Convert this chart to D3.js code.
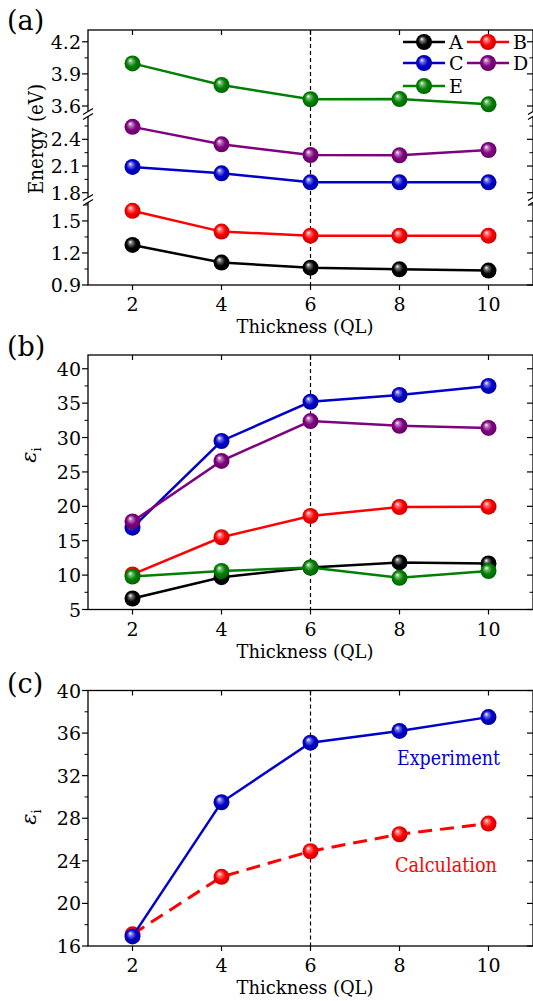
<!DOCTYPE html>
<html>
<head>
<meta charset="utf-8">
<script src="https://cdn.jsdelivr.net/npm/d3@7"></script>
<style>
body { margin: 0; background: #fff; }
svg { display: block; }
</style>
</head>
<body>
<div id="svgWrapper"></div>
<script>
const width = 533;
const height = 1001;

// Values
const thickness = [2, 4, 6, 8, 10];
const seriesNames = ["A", "B", "C", "D", "E"];

// (a) energies in eV
const energyA = [1.275, 1.11, 1.062, 1.047, 1.035];
const energyB = [1.595, 1.40, 1.362, 1.362, 1.362];
const energyC = [2.09, 2.018, 1.917, 1.917, 1.917];
const energyD = [2.54, 2.344, 2.224, 2.22, 2.28];
const energyE = [3.998, 3.796, 3.663, 3.665, 3.616];

// (b) epsilon_i
const epsA = [6.6, 9.7, 11.1, 11.85, 11.7];
const epsB = [10.1, 15.5, 18.6, 19.9, 19.95];
const epsC = [16.9, 29.5, 35.2, 36.2, 37.5];
const epsD = [17.8, 26.6, 32.4, 31.7, 31.4];
const epsE = [9.8, 10.6, 11.1, 9.6, 10.6];

// (c) experiment vs calculation
const epsExperiment = [16.9, 29.5, 35.1, 36.2, 37.5];
const epsCalculation = [17.1, 22.5, 24.9, 26.5, 27.5];

// tick labels
const xTicks = [2, 4, 6, 8, 10];
const energyTicks = [[0.9, 1.2, 1.5], [1.8, 2.1, 2.4], [3.6, 3.9, 4.2]];
const epsTicksB = [5, 10, 15, 20, 25, 30, 35, 40];
const epsTicksC = [16, 20, 24, 28, 32, 36, 40];

const colors = { A: "#000000", B: "#ff0000", C: "#0000cc", D: "#800080", E: "#008000" };
const serif = "DejaVu Serif";

const svg = d3.select("#svgWrapper")
    .append("svg")
    .attr("width", width)
    .attr("height", height)
    .attr("font-family", serif);

svg.append("rect").attr("width", width).attr("height", height).attr("fill", "#fff");

// sphere-like gradients for the markers
const defs = svg.append("defs");
Object.entries(colors).forEach(([k, c]) => {
    const g = defs.append("radialGradient")
        .attr("id", "ball" + k)
        .attr("cx", "50%").attr("cy", "50%").attr("r", "55%")
        .attr("fx", "35%").attr("fy", "30%");
    const base = d3.color(c);
    g.append("stop").attr("offset", "0%").attr("stop-color", "#ffffff");
    g.append("stop").attr("offset", "22%").attr("stop-color", d3.interpolateRgb(c, "#fff")(0.45));
    g.append("stop").attr("offset", "55%").attr("stop-color", c);
    g.append("stop").attr("offset", "100%").attr("stop-color", base.darker(0.8));
});

const left = 88, right = 533;
const x = d3.scaleLinear().domain([1, 11]).range([left, right]);

function addText(parent, px, py, str, size) {
    return parent.append("text")
        .attr("x", px).attr("y", py)
        .attr("font-family", serif)
        .attr("font-size", size)
        .text(str);
}

// generic frame: axes lines, ticks (outer on left/bottom, inner on top/right)
function drawFrame(top, bottom, yMajor, yMinor) {
    const g = svg.append("g");
    g.append("rect")
        .attr("x", left).attr("y", top)
        .attr("width", right - left).attr("height", bottom - top)
        .attr("fill", "none").attr("stroke", "#000").attr("stroke-width", 1.3);

    yMajor.forEach(t => {
        g.append("line").attr("x1", left - 6).attr("x2", left).attr("y1", t.y).attr("y2", t.y)
            .attr("stroke", "#000").attr("stroke-width", 1.2);
        g.append("line").attr("x1", right - 6).attr("x2", right).attr("y1", t.y).attr("y2", t.y)
            .attr("stroke", "#000").attr("stroke-width", 1.2);
        addText(g, left - 7, t.y + 7, t.label, 19).attr("text-anchor", "end");
    });
    yMinor.forEach(y => {
        g.append("line").attr("x1", left - 3.5).attr("x2", left).attr("y1", y).attr("y2", y)
            .attr("stroke", "#000").attr("stroke-width", 1);
        g.append("line").attr("x1", right - 3.5).attr("x2", right).attr("y1", y).attr("y2", y)
            .attr("stroke", "#000").attr("stroke-width", 1);
    });
    xTicks.forEach(v => {
        g.append("line").attr("x1", x(v)).attr("x2", x(v)).attr("y1", bottom).attr("y2", bottom + 5)
            .attr("stroke", "#000").attr("stroke-width", 1.2);
        g.append("line").attr("x1", x(v)).attr("x2", x(v)).attr("y1", top).attr("y2", top + 5)
            .attr("stroke", "#000").attr("stroke-width", 1.2);
        addText(g, x(v), bottom + 26, v, 19).attr("text-anchor", "middle");
    });
    addText(g, 305, bottom + 48, "Thickness (QL)", 19)
        .attr("text-anchor", "middle")
        .attr("textLength", 137).attr("lengthAdjust", "spacingAndGlyphs");

    // dashed marker at 6 QL
    g.append("line").attr("x1", x(6)).attr("x2", x(6)).attr("y1", top).attr("y2", bottom)
        .attr("stroke", "#000").attr("stroke-width", 1.2).attr("stroke-dasharray", "4,3");
}

function epsLabel(cx, cy) {
    const t = svg.append("text")
        .attr("transform", `translate(${cx},${cy}) rotate(-90)`)
        .attr("text-anchor", "middle")
        .attr("font-family", serif)
        .attr("font-size", 21);
    t.append("tspan").attr("font-style", "italic").text("\u03b5");
    t.append("tspan").attr("font-size", 13).attr("dy", 5).text("i");
}

function drawSeries(yFn, values, key, dash) {
    const pts = thickness.map((t, i) => [x(t), yFn(values[i])]);
    svg.append("path")
        .attr("d", d3.line()(pts))
        .attr("fill", "none").attr("stroke", colors[key])
        .attr("stroke-width", dash ? 3 : 2.5)
        .attr("stroke-dasharray", dash || null);
    svg.append("g").selectAll("circle").data(pts).enter().append("circle")
        .attr("cx", d => d[0]).attr("cy", d => d[1]).attr("r", 8)
        .attr("fill", "url(#ball" + key + ")");
}

// ---------- (a) broken energy axis ----------
const segs = [
    d3.scaleLinear().domain([0.9, 1.668]).range([285, 203]),
    d3.scaleLinear().domain([1.752, 2.662]).range([197, 116]),
    d3.scaleLinear().domain([3.544, 4.31]).range([112, 30])
];
function yA(v) {
    if (v < 1.71) return segs[0](v);
    if (v < 3.1) return segs[1](v);
    return segs[2](v);
}
const aMajor = [], aMinor = [];
energyTicks.forEach((ticks, i) => {
    ticks.forEach(v => {
        aMajor.push({ y: segs[i](v), label: v.toFixed(1) });
        const m = v + 0.15;
        if (m <= segs[i].domain()[1]) aMinor.push(segs[i](m));
    });
});
drawFrame(30, 285, aMajor, aMinor);

// axis break symbols on both vertical axes
[200, 114].forEach(yb => {
    [left, right].forEach(xb => {
        svg.append("rect").attr("x", xb - 2).attr("y", yb - 3).attr("width", 4).attr("height", 5).attr("fill", "#fff");
        [-2.5, 2.5].forEach(off => {
            svg.append("line")
                .attr("x1", xb - 5).attr("y1", yb + off + 3)
                .attr("x2", xb + 5).attr("y2", yb + off - 3)
                .attr("stroke", "#000").attr("stroke-width", 1.2);
        });
    });
});

const energySeries = [energyA, energyB, energyC, energyD, energyE];
energySeries.forEach((vals, i) => drawSeries(yA, vals, seriesNames[i]));

addText(svg, 7, 30, "(a)", 27);
addText(svg, 0, 0, "Energy (eV)", 20)
    .attr("transform", "translate(43,139) rotate(-90)")
    .attr("text-anchor", "middle")
    .attr("textLength", 110).attr("lengthAdjust", "spacingAndGlyphs");

// legend
const legendRows = [42, 63, 86];
seriesNames.forEach((name, i) => {
    const col = i % 2, row = Math.floor(i / 2);
    const x0 = col === 0 ? 403 : 467;
    const y0 = legendRows[row];
    svg.append("line").attr("x1", x0).attr("x2", x0 + 42).attr("y1", y0).attr("y2", y0)
        .attr("stroke", colors[name]).attr("stroke-width", 2.5);
    svg.append("circle").attr("cx", x0 + 21).attr("cy", y0).attr("r", 8)
        .attr("fill", "url(#ball" + name + ")");
    addText(svg, x0 + 46, y0 + 7, name, 19);
});

// ---------- (b) ----------
const yB = d3.scaleLinear().domain([5, 42]).range([609.5, 355]);
const bMinor = epsTicksB.map(v => v + 2.5).filter(v => v <= 42).map(yB);
drawFrame(355, 609.5, epsTicksB.map(v => ({ y: yB(v), label: v })), bMinor);
const epsSeries = [epsA, epsB, epsC, epsD, epsE];
epsSeries.forEach((vals, i) => drawSeries(yB, vals, seriesNames[i]));
addText(svg, 7, 356, "(b)", 27);
epsLabel(36, 455);

// ---------- (c) ----------
const yC = d3.scaleLinear().domain([16, 40]).range([946, 690.5]);
const cMinor = epsTicksC.map(v => v + 2).filter(v => v < 40).map(yC);
drawFrame(690.5, 946, epsTicksC.map(v => ({ y: yC(v), label: v })), cMinor);
drawSeries(yC, epsCalculation, "B", "14,8");
drawSeries(yC, epsExperiment, "C");
addText(svg, 7, 693, "(c)", 27);
epsLabel(36, 817);

addText(svg, 397, 765, "Experiment", 20).attr("fill", colors.C)
    .attr("textLength", 103).attr("lengthAdjust", "spacingAndGlyphs");
addText(svg, 395, 872, "Calculation", 20).attr("fill", colors.B)
    .attr("textLength", 102).attr("lengthAdjust", "spacingAndGlyphs");
</script>
</body>
</html>
